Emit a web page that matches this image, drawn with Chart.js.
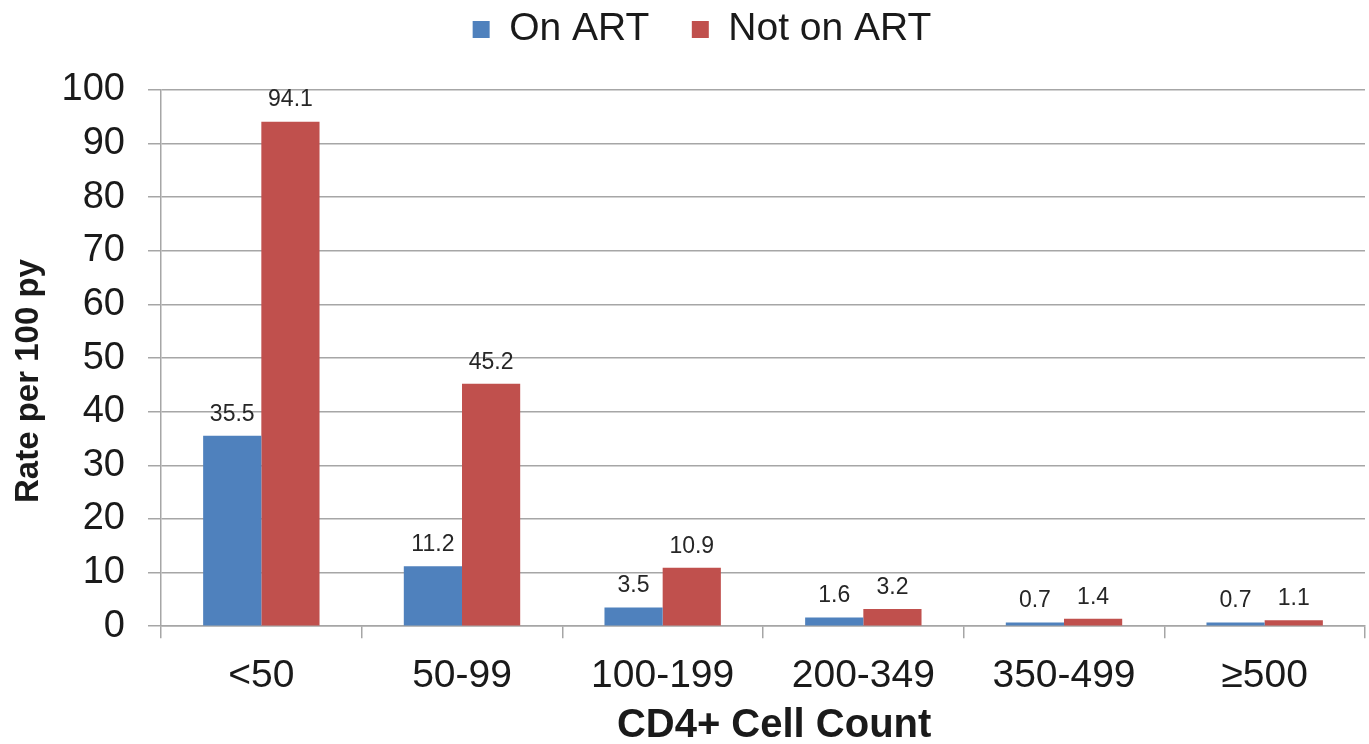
<!DOCTYPE html>
<html>
<head>
<meta charset="utf-8">
<script src="https://cdn.jsdelivr.net/npm/chart.js@4"></script>
<style>
  html, body { margin: 0; padding: 0; background: #fff; }
  #chart { display: block; }
</style>
</head>
<body>
<canvas id="chart" width="1369" height="744"></canvas>
<script>
const categories = ["<50", "50-99", "100-199", "200-349", "350-499", "\u2265500"];
const onArt = [35.5, 11.2, 3.5, 1.6, 0.7, 0.7];
const notOnArt = [94.1, 45.2, 10.9, 3.2, 1.4, 1.1];
const yTicks = [0, 10, 20, 30, 40, 50, 60, 70, 80, 90, 100];

const FONT = "'Liberation Sans', Arial, sans-serif";
const TEXT = "#1a1a1a";
const GRID = "#a6a6a6";

// draws the value above each bar
const valueLabels = {
  id: "valueLabels",
  afterDatasetsDraw(chart) {
    const ctx = chart.ctx;
    ctx.save();
    ctx.font = "23px " + FONT;
    ctx.fillStyle = "#262626";
    ctx.textAlign = "center";
    ctx.textBaseline = "bottom";
    chart.data.datasets.forEach((ds, i) => {
      const meta = chart.getDatasetMeta(i);
      meta.data.forEach((bar, j) => {
        ctx.fillText(ds.data[j].toFixed(1), bar.x, bar.y - 10);
      });
    });
    ctx.restore();
  }
};

// more room under the legend, and nudge it a bit to the right
const legendSpacing = {
  id: "legendSpacing",
  beforeInit(chart) {
    const fit = chart.legend.fit;
    chart.legend.fit = function () {
      fit.call(this);
      this.height += 31;
    };
  },
  afterLayout(chart) {
    chart.legend.left += 30;
  }
};

new Chart(document.getElementById("chart").getContext("2d"), {
  type: "bar",
  data: {
    labels: categories,
    datasets: [
      {
        label: "On ART",
        data: onArt,
        backgroundColor: "#4f81bd",
        categoryPercentage: 0.58,
        barPercentage: 1.0,
      },
      {
        label: "Not on ART",
        data: notOnArt,
        backgroundColor: "#c0504d",
        categoryPercentage: 0.58,
        barPercentage: 1.0,
      },
    ],
  },
  options: {
    responsive: false,
    animation: false,
    devicePixelRatio: 1,
    layout: { padding: { left: 9, right: 4, top: 0, bottom: 0 } },
    plugins: {
      legend: {
        position: "top",
        labels: {
          font: { family: FONT, size: 39 },
          color: TEXT,
          boxWidth: 17,
          boxHeight: 17,
          padding: 10,
          generateLabels(chart) {
            const items = Chart.defaults.plugins.legend.labels.generateLabels(chart);
            // extra room between the two entries
            items[0].text = items[0].text + "   ";
            return items;
          },
        },
      },
      tooltip: { enabled: false },
    },
    scales: {
      x: {
        grid: {
          offset: true,
          drawOnChartArea: false,
          drawTicks: true,
          tickLength: 12,
          color: GRID,
          lineWidth: 1.5,
        },
        border: { color: GRID, width: 1.5 },
        ticks: {
          font: { family: FONT, size: 39 },
          color: TEXT,
          padding: 15,
        },
        title: {
          display: true,
          text: "  CD4+ Cell Count",
          font: { family: FONT, size: 40, weight: "bold", lineHeight: 0.55 },
          color: TEXT,
          padding: { top: 0, bottom: 7 },
        },
      },
      y: {
        min: 0,
        max: 100,
        afterBuildTicks(axis) {
          axis.ticks = yTicks.map((v) => ({ value: v }));
        },
        afterFit(axis) {
          axis.width = 152;
        },
        grid: {
          color: GRID,
          lineWidth: 1.5,
          tickLength: 13,
        },
        border: { color: GRID, width: 1.5 },
        ticks: {
          font: { family: FONT, size: 38 },
          color: TEXT,
          padding: 23,
        },
        title: {
          display: true,
          text: "Rate per 100 py     ",
          font: { family: FONT, size: 33, weight: "bold" },
          color: TEXT,
          padding: { top: 0, bottom: 0 },
        },
      },
    },
  },
  plugins: [valueLabels, legendSpacing],
});
</script>
</body>
</html>
